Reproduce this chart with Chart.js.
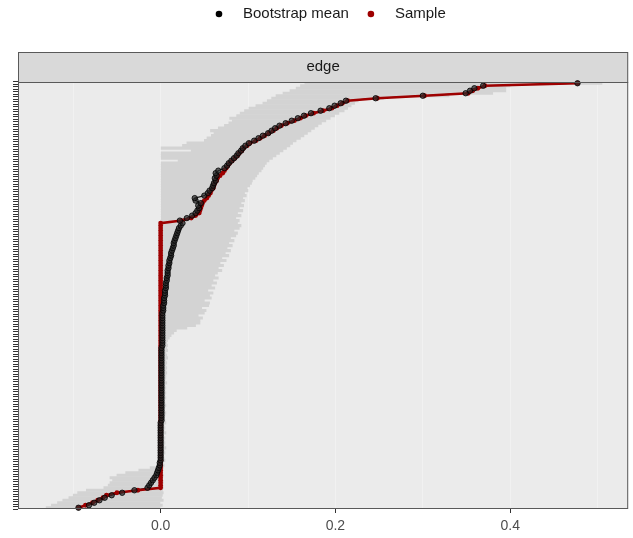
<!DOCTYPE html>
<html>
<head>
<meta charset="utf-8">
<script src="https://cdn.jsdelivr.net/npm/chart.js@4.4.1/dist/chart.umd.min.js"></script>
<style>
  body { margin: 0; background: #fff; }
</style>
</head>
<body>
<canvas id="edgeChart" width="633" height="538"></canvas>
<script>
/* ------------------------------
 Edge weights, sorted by sample value (rank 1 = bottom)
---------------------------------*/

// sample edge weights
var sampleVals = [
  -0.094, -0.086, -0.078, -0.072, -0.066, -0.062, -0.050, -0.026,
  0, 0, 0, 0, 0, 0, 0, 0, 0, 0, 0,
  0, 0, 0, 0, 0, 0, 0, 0, 0, 0, 0, 0,
  0, 0, 0, 0, 0, 0, 0, 0, 0, 0, 0, 0,
  0, 0, 0, 0, 0, 0, 0, 0, 0, 0, 0, 0,
  0, 0, 0, 0, 0, 0, 0, 0, 0, 0, 0, 0,
  0, 0, 0, 0, 0, 0, 0, 0, 0, 0, 0, 0,
  0, 0, 0, 0, 0, 0, 0, 0, 0, 0, 0, 0,
  0, 0, 0, 0, 0, 0, 0, 0, 0, 0, 0, 0,
  0, 0, 0, 0, 0, 0, 0, 0, 0, 0, 0, 0,
  0.024, 0.035, 0.040, 0.044, 0.045, 0.046, 0.047, 0.048, 0.050, 0.053,
  0.055, 0.057, 0.058, 0.060, 0.061, 0.062, 0.064, 0.065, 0.068, 0.071,
  0.073, 0.075, 0.077, 0.079, 0.082, 0.085, 0.088, 0.090, 0.093, 0.095,
  0.099, 0.102, 0.109, 0.114, 0.119, 0.124, 0.129, 0.133, 0.138, 0.145,
  0.153, 0.160, 0.166, 0.175, 0.186, 0.196, 0.202, 0.208, 0.214, 0.248,
  0.302, 0.352, 0.357, 0.363, 0.371, 0.477
];

// bootstrap means
var bootMean = [
  -0.094, -0.082, -0.076, -0.070, -0.064, -0.056, -0.044, -0.030,
  -0.015, -0.013, -0.011, -0.009, -0.007, -0.005, -0.004, -0.003, -0.002,
  -0.001, -0.001, 0, 0, 0, 0, 0, 0, 0, 0,
  0, 0, 0, 0, 0, 0, 0, 0, 0.001, 0.001,
  0.001, 0.001, 0.001, 0.001, 0.001, 0.001, 0.001, 0.001, 0.001, 0.001,
  0.001, 0.001, 0.001, 0.001, 0.001, 0.001, 0.001, 0.001, 0.001, 0.001,
  0.001, 0.001, 0.001, 0.001, 0.001, 0.001, 0.001, 0.001, 0.002, 0.002,
  0.002, 0.002, 0.002, 0.002, 0.002, 0.002, 0.002, 0.002, 0.002, 0.002,
  0.002, 0.002, 0.003, 0.003, 0.003, 0.004, 0.004, 0.004, 0.005, 0.005,
  0.005, 0.006, 0.006, 0.006, 0.007, 0.007, 0.008, 0.008, 0.008, 0.009,
  0.009, 0.010, 0.010, 0.011, 0.012, 0.012, 0.013, 0.014, 0.015, 0.015,
  0.016, 0.017, 0.018, 0.019, 0.020, 0.021, 0.023, 0.025,
  0.022, 0.030, 0.036, 0.040, 0.042, 0.044, 0.043, 0.046, 0.040, 0.039,
  0.050, 0.054, 0.056, 0.059, 0.060, 0.061, 0.063, 0.062, 0.064, 0.063,
  0.066, 0.073, 0.076, 0.078, 0.081, 0.084, 0.087, 0.089, 0.092, 0.094,
  0.097, 0.101, 0.107, 0.112, 0.117, 0.123, 0.127, 0.131, 0.136, 0.143,
  0.150, 0.157, 0.164, 0.172, 0.183, 0.193, 0.199, 0.206, 0.212, 0.246,
  0.300, 0.349, 0.354, 0.359, 0.369, 0.477
];

// bootstrap CI lower bound
var ciLower = [
  -0.131, -0.125, -0.118, -0.112, -0.105, -0.100, -0.095, -0.085,
  -0.065, -0.060, -0.058, -0.055, -0.058, -0.050, -0.040, -0.025, -0.012,
  0, 0, 0, 0, 0, 0, 0, 0, 0, 0, 0, 0, 0, 0,
  0, 0, 0, 0, 0, 0, 0, 0, 0, 0, 0, 0, 0, 0,
  0, 0, 0, 0, 0, 0, 0, 0, 0, 0, 0, 0, 0, 0,
  0, 0, 0, 0, 0, 0, 0, 0, 0, 0, 0, 0, 0, 0,
  0, 0, 0, 0, 0, 0, 0, 0, 0, 0, 0, 0, 0, 0,
  0, 0, 0, 0, 0, 0, 0, 0, 0, 0, 0, 0, 0, 0,
  0, 0, 0, 0, 0, 0, 0, 0, 0, 0, 0, 0, 0, 0,
  0, 0, 0, 0, 0, 0, 0,
  0, 0, 0, 0, 0, 0, 0, 0, 0, 0,
  0, 0, 0, 0, 0, 0, 0, 0.020, 0, 0,
  0, 0.035, 0, 0.025, 0.030, 0.050, 0.053, 0.058, 0.061, 0.057,
  0.066, 0.073, 0.078, 0.082, 0.079, 0.087, 0.091, 0.096, 0.101, 0.109,
  0.117, 0.122, 0.127, 0.132, 0.140, 0.148, 0.155, 0.160, 0.165, 0.216,
  0.260, 0.315, 0.320, 0.325, 0.330, 0.450
];

// bootstrap CI upper bound
var ciUpper = [
  0.000, 0.002, 0.000, 0.003, 0.001, 0.002, 0.003, 0.002,
  0.003, 0.002, 0.003, 0.002, 0.002, 0.003, 0.002, 0.002, 0.003,
  0.004, 0.003, 0.005, 0.004, 0.003, 0.005, 0.004, 0.006, 0.004, 0.005,
  0.004, 0.005, 0.003, 0.006, 0.004, 0.005, 0.004, 0.006, 0.005, 0.004,
  0.005, 0.006, 0.004, 0.005, 0.006, 0.005, 0.004, 0.006, 0.005, 0.006,
  0.005, 0.006, 0.005, 0.007, 0.005, 0.006, 0.006, 0.007, 0.006, 0.007,
  0.006, 0.007, 0.006, 0.008, 0.007, 0.006, 0.008, 0.007, 0.008, 0.007,
  0.008, 0.010, 0.012, 0.015, 0.018, 0.030, 0.040, 0.045,
  0.045, 0.048, 0.043, 0.050, 0.052, 0.047, 0.055, 0.056, 0.050, 0.058,
  0.056, 0.060, 0.054, 0.062, 0.058, 0.064, 0.060, 0.066, 0.062, 0.065,
  0.070, 0.066, 0.072, 0.068, 0.075, 0.070, 0.078, 0.074, 0.080, 0.076,
  0.082, 0.078, 0.084, 0.080, 0.086, 0.088, 0.084, 0.090, 0.092, 0.088,
  0.090, 0.086, 0.092, 0.088, 0.094, 0.090, 0.095, 0.092, 0.096, 0.094,
  0.098, 0.096, 0.100, 0.099, 0.102, 0.104, 0.105, 0.108, 0.110, 0.112,
  0.115, 0.117, 0.119, 0.121, 0.124, 0.128, 0.132, 0.136, 0.140, 0.144,
  0.148, 0.151, 0.155, 0.160, 0.164, 0.168, 0.172, 0.176, 0.180, 0.184,
  0.189, 0.194, 0.199, 0.204, 0.210, 0.214, 0.218, 0.222, 0.226, 0.255,
  0.330, 0.380, 0.395, 0.395, 0.400, 0.505
];

// edge names (one per row of the panel)
var edgeNames = sampleVals.map(function (v, i) { return "edge " + (i + 1); });

var xGridVals = [-0.1, 0, 0.1, 0.2, 0.3, 0.4, 0.5];
var xTickVals = [0, 0.2, 0.4];
var xTickLabels = ["0.0", "0.2", "0.4"];
var legendLabels = ["Bootstrap mean", "Sample"];
var stripLabel = "edge";

var RED = "#9e0000";
var FONT = '"Liberation Sans", Arial, sans-serif';

/*------------------------------------
* Panel, strip and legend
------------------------------------ */
var panelDeco = {
  id: "panelDeco",
  beforeDraw: function (chart) {
    var ctx = chart.ctx, a = chart.chartArea;
    ctx.save();
    ctx.fillStyle = "#ebebeb";
    ctx.fillRect(a.left, a.top, a.right - a.left, a.bottom - a.top);

    // facet strip
    ctx.fillStyle = "#d9d9d9";
    ctx.fillRect(a.left, a.top - 30, a.right - a.left, 30);
    ctx.strokeStyle = "#595959";
    ctx.lineWidth = 1;
    ctx.strokeRect(a.left + 0.5, a.top - 29.5, a.right - a.left - 1, 30);
    ctx.fillStyle = "#1a1a1a";
    ctx.font = "15px " + FONT;
    ctx.textAlign = "center";
    ctx.textBaseline = "middle";
    ctx.fillText(stripLabel, (a.left + a.right) / 2, a.top - 15);

    // legend
    var colors = ["#000000", RED];
    var x = 219, y = 14;
    ctx.textAlign = "left";
    legendLabels.forEach(function (lab, i) {
      ctx.fillStyle = colors[i];
      ctx.beginPath();
      ctx.arc(x, y, 3.3, 0, Math.PI * 2);
      ctx.fill();
      ctx.fillStyle = "#1a1a1a";
      ctx.fillText(lab, x + 24, y);
      x += 24 + ctx.measureText(lab).width + 22;
    });
    ctx.restore();
  },
  afterDraw: function (chart) {
    var ctx = chart.ctx, a = chart.chartArea;
    ctx.save();
    ctx.strokeStyle = "#595959";
    ctx.lineWidth = 1;
    ctx.strokeRect(a.left + 0.5, a.top + 0.5, a.right - a.left - 1, a.bottom - a.top - 1);
    ctx.restore();
  }
};

/*------------------------------------
* Chart
------------------------------------ */
function isLabelled(v) {
  return xTickVals.some(function (t) { return Math.abs(t - v) < 1e-9; });
}

var edgeChart = new Chart(document.getElementById("edgeChart"), {
  type: "bar",
  data: {
    labels: edgeNames,
    datasets: [
      {
        type: "bar",
        label: "CI",
        data: ciLower.map(function (lo, i) { return [lo, ciUpper[i]]; }),
        backgroundColor: "#d3d3d3",
        borderWidth: 0,
        barPercentage: 1,
        categoryPercentage: 1,
        indexAxis: "y",
        order: 5
      },
      {
        // mean path, under the sample line
        type: "line",
        label: legendLabels[0] + " line",
        data: bootMean,
        borderColor: "#1a1a1a",
        borderWidth: 1.2,
        pointRadius: 0,
        indexAxis: "y",
        order: 4
      },
      {
        type: "line",
        label: legendLabels[1],
        data: sampleVals,
        borderColor: RED,
        backgroundColor: RED,
        borderWidth: 2.6,
        pointRadius: 2.4,
        pointBorderWidth: 0,
        pointBackgroundColor: RED,
        indexAxis: "y",
        order: 3
      },
      {
        type: "line",
        label: legendLabels[0],
        data: bootMean,
        showLine: false,
        borderColor: "#000000",
        backgroundColor: "rgba(40,40,40,0.75)",
        pointRadius: 2.7,
        pointBorderWidth: 0.8,
        pointBorderColor: "#000000",
        pointBackgroundColor: "rgba(40,40,40,0.7)",
        indexAxis: "y",
        order: 1
      }
    ]
  },
  options: {
    responsive: false,
    devicePixelRatio: 1,
    animation: false,
    indexAxis: "y",
    layout: { padding: { top: 82, right: 3, left: 0, bottom: 0 } },
    plugins: {
      legend: { display: false },
      tooltip: { enabled: false }
    },
    scales: {
      y: {
        type: "category",
        reverse: true,
        offset: true,
        border: { display: false },
        grid: {
          drawOnChartArea: false,
          drawTicks: true,
          tickLength: 5,
          tickColor: "#333333",
          tickWidth: 1
        },
        ticks: {
          autoSkip: false,
          padding: 0,
          callback: function () { return ""; }
        },
        afterFit: function (scale) { scale.width = 18; }
      },
      x: {
        type: "linear",
        min: -0.1632,
        max: 0.535,
        border: { display: false },
        afterBuildTicks: function (scale) {
          scale.ticks = xGridVals.map(function (v) { return { value: v }; });
        },
        grid: {
          color: "#f1f1f1",
          lineWidth: 1,
          tickLength: 4,
          tickColor: function (c) {
            return c.tick && isLabelled(c.tick.value) ? "#333333" : "rgba(0,0,0,0)";
          }
        },
        ticks: {
          autoSkip: false,
          maxRotation: 0,
          padding: 5,
          color: "#4d4d4d",
          font: { family: FONT, size: 14 },
          callback: function (v) {
            var k = xTickVals.findIndex(function (t) { return Math.abs(t - v) < 1e-9; });
            return k >= 0 ? xTickLabels[k] : "";
          }
        },
        afterFit: function (scale) { scale.height = 29; }
      }
    }
  },
  plugins: [panelDeco]
});
</script>
</body>
</html>
